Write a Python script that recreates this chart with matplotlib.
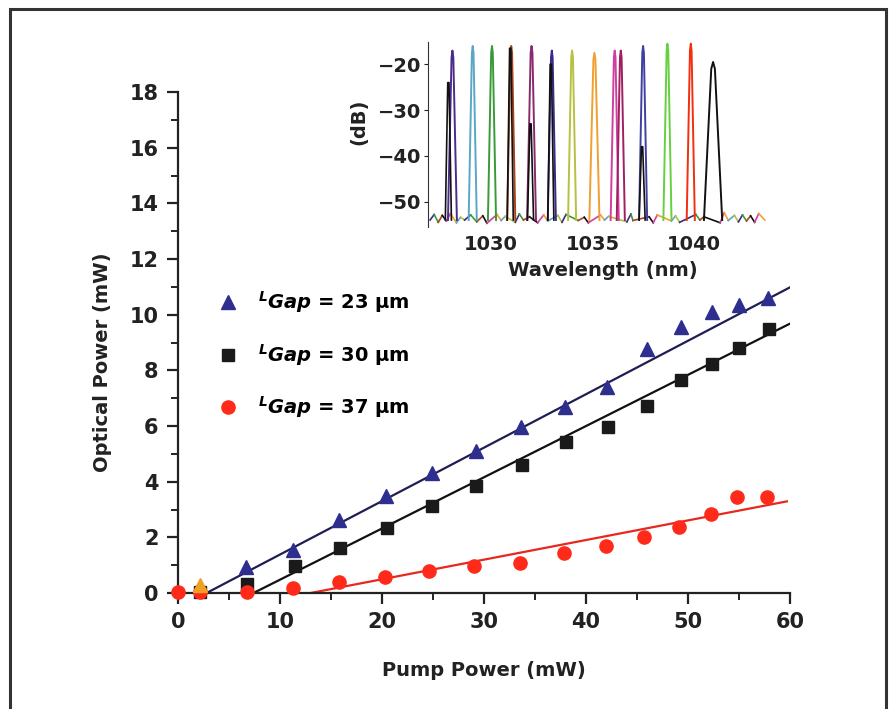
import matplotlib
matplotlib.use('Agg')
import matplotlib.pyplot as plt
from matplotlib.lines import Line2D
from matplotlib.patches import Rectangle
import numpy as np

plt.rcParams['font.family'] = ['DejaVu Sans']
plt.rcParams['font.weight'] = 'bold'
plt.rcParams['mathtext.fontset'] = 'custom'
plt.rcParams['mathtext.it'] = 'DejaVu Sans:italic:bold'
plt.rcParams['mathtext.rm'] = 'DejaVu Sans:bold'

# ---- main data: output power vs pump power ----
tri_x = [2.2, 6.7, 11.3, 15.8, 20.4, 24.9, 29.2, 33.6, 37.9, 42.1, 46.0, 49.3, 52.4, 55.0, 57.8]
tri_y = [0.29, 0.95, 1.55, 2.62, 3.5, 4.3, 5.12, 5.95, 6.7, 7.4, 8.77, 9.55, 10.1, 10.35, 10.6]
sq_x = [2.2, 6.8, 11.5, 15.9, 20.5, 24.9, 29.2, 33.7, 38.0, 42.2, 46.0, 49.3, 52.4, 55.0, 57.9]
sq_y = [0.05, 0.33, 0.97, 1.62, 2.33, 3.14, 3.85, 4.6, 5.43, 5.97, 6.72, 7.65, 8.23, 8.8, 9.49]
circ_x = [0, 2.2, 6.8, 11.3, 15.8, 20.3, 24.6, 29.0, 33.5, 37.8, 42.0, 45.7, 49.1, 52.3, 54.8, 57.7]
circ_y = [0.05, 0.05, 0.04, 0.17, 0.4, 0.58, 0.78, 0.97, 1.08, 1.44, 1.69, 2.0, 2.37, 2.83, 3.45, 3.45]

# linear fits: threshold (mW), slope efficiency, end of fit (mW)
thresholds = [2.8, 7.4, 13.0]
slopes = [0.192, 0.184, 0.0705]
fit_end = [60, 60, 59.7]

labels = [r'$^{L}\mathit{Gap}$ = 23 µm', r'$^{L}\mathit{Gap}$ = 30 µm', r'$^{L}\mathit{Gap}$ = 37 µm']

# ---- inset data: lasing spectra ----
peak_nm = [1028.1, 1029.1, 1030.05, 1031.0, 1032.0, 1033.0, 1034.0, 1035.1,
           1036.1, 1036.4, 1037.5, 1038.7, 1039.85, 1040.95]
peak_db = [-17, -16, -16, -16, -16, -17, -17, -17.5, -17, -17, -16, -15.5, -15.5, -19.5]
peak_width = [0.22, 0.2, 0.2, 0.2, 0.22, 0.2, 0.2, 0.25, 0.2, 0.2, 0.2, 0.2, 0.2, 0.45]
peak_colors = ['#4b2c8c', '#5aa6c4', '#3a9a3a', '#a8441c', '#8a2a6c', '#3b2a8a', '#b8c040',
               '#f0a030', '#d040a0', '#a02060', '#4040a0', '#66d040', '#f03010', '#111111']
black_overlay_nm = [1027.9, 1030.95, 1031.95, 1032.95, 1037.45]
black_overlay_db = [-24, -16.5, -33, -20, -38]
floor_nm = [1027.0, 1027.2, 1027.4, 1027.6, 1027.8, 1028.0, 1028.3, 1028.5, 1028.7, 1029.0,
            1029.3, 1029.6, 1029.8, 1030.3, 1030.5, 1030.7, 1031.2, 1031.4, 1031.6, 1031.9,
            1032.3, 1032.6, 1032.8, 1033.3, 1033.5, 1033.7, 1034.3, 1034.6, 1034.8, 1035.4,
            1035.6, 1035.8, 1036.7, 1036.9, 1037.0, 1037.8, 1038.0, 1038.2, 1038.9, 1039.1,
            1039.3, 1040.1, 1040.3, 1040.5, 1041.3, 1041.5, 1041.7, 1042.0, 1042.2, 1042.4,
            1042.6, 1042.8, 1043.0, 1043.2, 1043.5]
floor_db = [-54.0, -52.8, -54.5, -53.0, -54.2, -52.6, -54.6, -53.4, -54.0, -52.9,
            -54.4, -53.1, -54.7, -52.8, -54.1, -53.2, -54.5, -52.7, -54.0, -53.3,
            -54.6, -52.9, -54.2, -53.0, -54.5, -52.8, -54.1, -53.4, -54.6, -52.9,
            -54.0, -53.2, -54.4, -52.7, -54.1, -53.3, -54.6, -52.9, -54.2, -53.1,
            -54.5, -52.8, -54.0, -53.3, -54.6, -52.4, -54.1, -53.0, -54.4, -52.9,
            -54.2, -53.1, -54.5, -52.6, -54.0]
floor_colors = ['#3b2a8a', '#3a9a3a', '#a8441c', '#111111', '#d040a0', '#f0a030', '#5aa6c4', '#b8c040']

fig = plt.figure(figsize=(8.9, 7.09), dpi=100)

# outer frame
fig.patches.append(Rectangle((10 / 890, -0.02), 876 / 890, 1.02 - 9 / 709, transform=fig.transFigure,
                             fill=False, edgecolor='#333333', linewidth=2.2))

ax = fig.add_axes([0.2, 0.1636, 0.6876, 0.7066])

xx = [np.array([t, e]) for t, e in zip(thresholds, fit_end)]
ax.plot(xx[0], slopes[0] * (xx[0] - thresholds[0]), color='#1e1e55', lw=1.6, zorder=2)
ax.plot(xx[1], slopes[1] * (xx[1] - thresholds[1]), color='#111111', lw=1.6, zorder=2)
ax.plot(xx[2], slopes[2] * (xx[2] - thresholds[2]), color='#e8281e', lw=1.6, zorder=2)

ax.plot(tri_x[1:], tri_y[1:], '^', color='#2e2e8e', ms=10, ls='none', clip_on=False, zorder=3)
ax.plot(tri_x[:1], tri_y[:1], '^', color='#f0a020', ms=10, ls='none', clip_on=False, zorder=4)
ax.plot(sq_x, sq_y, 's', color='#1a1a1a', ms=8.5, ls='none', clip_on=False, zorder=3)
ax.plot(circ_x, circ_y, 'o', color='#ff2a1a', ms=9.5, ls='none', clip_on=False, zorder=3)

ax.set_xlim(0, 60)
ax.set_ylim(0, 18)
ax.set_xticks(np.arange(0, 61, 10))
ax.set_xticks(np.arange(5, 60, 10), minor=True)
ax.set_yticks(np.arange(0, 19, 2))
ax.set_yticks(np.arange(1, 18, 2), minor=True)
ax.spines['top'].set_visible(False)
ax.spines['right'].set_visible(False)
for s in ['left', 'bottom']:
    ax.spines[s].set_linewidth(1.6)
    ax.spines[s].set_color('#222222')
ax.tick_params(which='major', length=8, width=1.6, labelsize=15, colors='#222222', pad=6)
ax.tick_params(which='minor', length=5, width=1.4, colors='#222222')
ax.set_xlabel('Pump Power (mW)', fontsize=14, fontweight='bold', color='#222222')
ax.set_ylabel('Optical Power (mW)', fontsize=14, fontweight='bold', color='#222222')
ax.xaxis.set_label_coords(0.5, -0.135)
ax.yaxis.set_label_coords(-0.108, 0.46)

handles = [Line2D([], [], marker='^', color='#2e2e8e', ms=10, ls='none'),
           Line2D([], [], marker='s', color='#1a1a1a', ms=8.5, ls='none'),
           Line2D([], [], marker='o', color='#ff2a1a', ms=9.5, ls='none')]
ax.legend(handles, labels, loc='upper left', bbox_to_anchor=(0.034, 0.642), frameon=False,
          fontsize=14, labelspacing=1.38, handletextpad=0.95, handlelength=1.2)

# ---- inset ----
ins = fig.add_axes([0.481, 0.680, 0.392, 0.261])
for k in range(len(floor_nm) - 1):
    ins.plot(floor_nm[k:k + 2], floor_db[k:k + 2], color=floor_colors[k % len(floor_colors)], lw=1.2)
for i, (c, p, w) in enumerate(zip(peak_nm, peak_db, peak_width)):
    ins.plot([c - w, c - w / 5, c, c + w / 5, c + w], [-54, p - 1.5, p, p - 1.5, -54],
             color=peak_colors[i], lw=1.4)
for c, p in zip(black_overlay_nm, black_overlay_db):
    ins.plot([c - 0.15, c - 0.03, c + 0.03, c + 0.15], [-54, p, p, -54], color='#111111', lw=1.2)

ins.set_xlim(1026.9, 1044.1)
ins.set_ylim(-55.5, -15.1)
ins.set_yticks([-20, -30, -40, -50])
ins.set_xticks([1030, 1035, 1040])
for s in ['top', 'right', 'bottom']:
    ins.spines[s].set_visible(False)
ins.spines['left'].set_color('#333333')
ins.tick_params(axis='y', length=3, labelsize=14, colors='#222222', pad=2)
ins.tick_params(axis='x', length=0, labelsize=14, colors='#222222', pad=6)
ins.set_xlabel('Wavelength (nm)', fontsize=14, fontweight='bold', color='#222222', labelpad=5)
ins.set_ylabel('(dB)', fontsize=14, fontweight='bold', color='#222222')
ins.yaxis.set_label_coords(-0.17, 0.57)
ins.patch.set_alpha(0)

fig.savefig('out.png', dpi=100)
